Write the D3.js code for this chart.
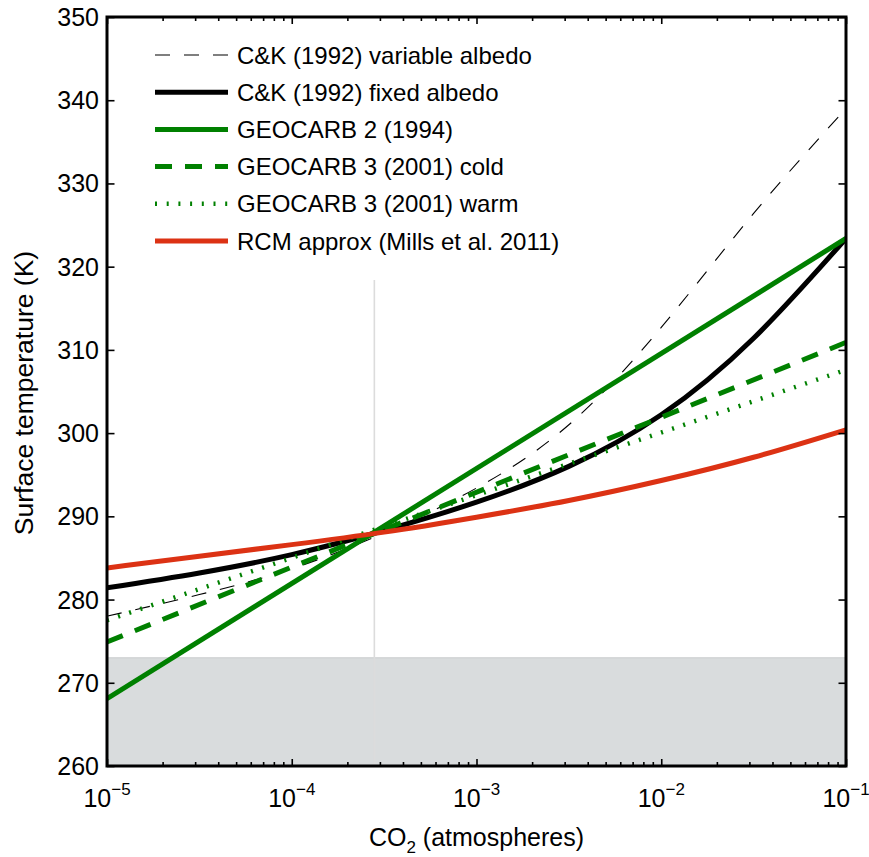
<!DOCTYPE html>
<html>
<head>
<meta charset="utf-8">
<script src="https://cdn.jsdelivr.net/npm/d3@7"></script>
<style>
  html, body { margin: 0; padding: 0; background: #fff; }
  svg { display: block; font-family: "Liberation Sans", Arial, Helvetica, sans-serif; }
</style>
</head>
<body>
<svg id="chart" width="869" height="857"></svg>
<script>
// CO2 grid (atmospheres), half-decade steps
const co2Grid = [1e-5, 3.162e-5, 1e-4, 3.162e-4, 1e-3, 3.162e-3, 1e-2, 3.162e-2, 1e-1];
const co2Ends = [1e-5, 1e-1];

// Surface temperature (K) for each model
const ckVariableAlbedo = [278.0, 280.6, 283.7, 288.0, 293.4, 301.0, 312.7, 326.4, 339.0];
const ckFixedAlbedo    = [281.4, 283.2, 285.4, 288.3, 291.7, 296.0, 302.2, 311.4, 323.4];
const geocarb2         = [268.1, 323.4];
const geocarb3Cold     = [274.9, 310.9];
const geocarb3Warm     = [277.5, 307.6];
const rcmApprox        = [283.8, 285.2, 286.6, 288.1, 289.9, 291.9, 294.3, 297.1, 300.4];

// Freezing band and present-day CO2 marker
const freezeBand = [260, 273];
const presentCO2 = 2.8e-4;
const presentLine = [260, 318.4];

// Axis ticks
const xMajorTicks = [1e-5, 1e-4, 1e-3, 1e-2, 1e-1];
const xTickExponents = ["−5", "−4", "−3", "−2", "−1"];
const yTicks = [260, 270, 280, 290, 300, 310, 320, 330, 340, 350];

const seriesNames = [
  "C&K (1992) variable albedo",
  "C&K (1992) fixed albedo",
  "GEOCARB 2 (1994)",
  "GEOCARB 3 (2001) cold",
  "GEOCARB 3 (2001) warm",
  "RCM approx (Mills et al. 2011)"
];

const green = "#008000";
const red = "#dc3214";

const series = [
  { name: seriesNames[0], x: co2Grid, y: ckVariableAlbedo, color: "#000", width: 1.1, dash: "15,14", curve: true },
  { name: seriesNames[1], x: co2Grid, y: ckFixedAlbedo, color: "#000", width: 5, dash: null, curve: true },
  { name: seriesNames[2], x: co2Ends, y: geocarb2, color: green, width: 5, dash: null, curve: false },
  { name: seriesNames[3], x: co2Ends, y: geocarb3Cold, color: green, width: 5, dash: "17,13", curve: false },
  { name: seriesNames[4], x: co2Ends, y: geocarb3Warm, color: green, width: 4.5, dash: "2,9.7", curve: false },
  { name: seriesNames[5], x: co2Grid, y: rcmApprox, color: red, width: 5, dash: null, curve: true }
];

const box = { left: 107, right: 846, top: 17, bottom: 766 };
const x = d3.scaleLog().domain([1e-5, 1e-1]).range([box.left, box.right]);
const y = d3.scaleLinear().domain([260, 350]).range([box.bottom, box.top]);

const svg = d3.select("#chart");
const plot = svg.append("g");

plot.append("defs").append("clipPath").attr("id", "clip")
  .append("rect").attr("x", box.left).attr("y", box.top)
  .attr("width", box.right - box.left).attr("height", box.bottom - box.top);

// freezing band
plot.append("rect")
  .attr("x", box.left).attr("width", box.right - box.left)
  .attr("y", y(freezeBand[1])).attr("height", y(freezeBand[0]) - y(freezeBand[1]))
  .attr("fill", "#d9dcdd");
plot.append("line")
  .attr("x1", box.left).attr("x2", box.right)
  .attr("y1", y(freezeBand[1])).attr("y2", y(freezeBand[1]))
  .attr("stroke", "#c8cbcc").attr("stroke-width", 1);

// present-day CO2 marker
plot.append("line")
  .attr("x1", x(presentCO2)).attr("x2", x(presentCO2))
  .attr("y1", y(presentLine[0])).attr("y2", y(presentLine[1]))
  .attr("stroke", "#dcdcdc").attr("stroke-width", 1.6);

// model curves
const curves = plot.append("g").attr("clip-path", "url(#clip)");
series.forEach(s => {
  const pts = s.x.map((v, i) => [v, s.y[i]]);
  const line = d3.line()
    .x(d => x(d[0])).y(d => y(d[1]))
    .curve(s.curve ? d3.curveNatural : d3.curveLinear);
  curves.append("path")
    .datum(pts)
    .attr("d", line)
    .attr("fill", "none")
    .attr("stroke", s.color)
    .attr("stroke-width", s.width)
    .attr("stroke-dasharray", s.dash)
    .attr("stroke-linejoin", "round");
});

// minor ticks for the log axis
const xMinorTicks = [];
xMajorTicks.slice(0, -1).forEach(d => { for (let k = 2; k <= 9; k++) xMinorTicks.push(d * k); });

const axes = svg.append("g");

function styleAxis(g) {
  g.select(".domain").remove();
  g.selectAll(".tick line").attr("stroke", "#000").attr("stroke-width", 1.6);
  g.selectAll(".tick text").remove();
}

axes.append("g").attr("transform", `translate(0,${box.bottom})`)
  .call(d3.axisBottom(x).tickValues(xMajorTicks).tickSize(-7).tickFormat("")).call(styleAxis);
axes.append("g").attr("transform", `translate(0,${box.bottom})`)
  .call(d3.axisBottom(x).tickValues(xMinorTicks).tickSize(-4).tickFormat("")).call(styleAxis);
axes.append("g").attr("transform", `translate(0,${box.top})`)
  .call(d3.axisTop(x).tickValues(xMajorTicks).tickSize(-7).tickFormat("")).call(styleAxis);
axes.append("g").attr("transform", `translate(0,${box.top})`)
  .call(d3.axisTop(x).tickValues(xMinorTicks).tickSize(-4).tickFormat("")).call(styleAxis);
axes.append("g").attr("transform", `translate(${box.left},0)`)
  .call(d3.axisLeft(y).tickValues(yTicks).tickSize(-7.5).tickFormat("")).call(styleAxis);
axes.append("g").attr("transform", `translate(${box.right},0)`)
  .call(d3.axisRight(y).tickValues(yTicks).tickSize(-7.5).tickFormat("")).call(styleAxis);

// axis box
svg.append("rect")
  .attr("x", box.left).attr("y", box.top)
  .attr("width", box.right - box.left).attr("height", box.bottom - box.top)
  .attr("fill", "none").attr("stroke", "#000").attr("stroke-width", 3);

// tick labels
svg.append("g").selectAll("text").data(yTicks).join("text")
  .attr("x", box.left - 8).attr("y", d => y(d)).attr("dy", "0.36em")
  .attr("text-anchor", "end").attr("font-size", 25).attr("fill", "#000")
  .text(d => d);

const xl = svg.append("g").selectAll("text").data(xMajorTicks).join("text")
  .attr("x", d => x(d)).attr("y", 807)
  .attr("text-anchor", "middle").attr("font-size", 25).attr("fill", "#000");
xl.append("tspan").text("10");
xl.append("tspan").attr("dy", -12).attr("font-size", 17).text((d, i) => xTickExponents[i]);

// axis titles
const xt = svg.append("text")
  .attr("x", (box.left + box.right) / 2).attr("y", 846)
  .attr("text-anchor", "middle").attr("font-size", 25).attr("fill", "#000");
xt.append("tspan").text("CO");
xt.append("tspan").attr("dy", 7).attr("font-size", 17).text("2");
xt.append("tspan").attr("dy", -7).text(" (atmospheres)");

svg.append("text")
  .attr("transform", `translate(33,393) rotate(-90)`)
  .attr("text-anchor", "middle").attr("font-size", 26.5).attr("fill", "#000")
  .text("Surface temperature (K)");

// legend
const legend = svg.append("g");
const rowY = d3.scaleLinear().domain([0, series.length - 1]).range([55, 241]);
series.forEach((s, i) => {
  const yy = rowY(i);
  legend.append("line")
    .attr("x1", 155).attr("x2", 228).attr("y1", yy).attr("y2", yy)
    .attr("stroke", s.color).attr("stroke-width", s.width)
    .attr("stroke-dasharray", s.dash);
  legend.append("text")
    .attr("x", 237).attr("y", yy).attr("dy", "0.36em")
    .attr("font-size", 24).attr("fill", "#000")
    .text(s.name);
});
</script>
</body>
</html>
